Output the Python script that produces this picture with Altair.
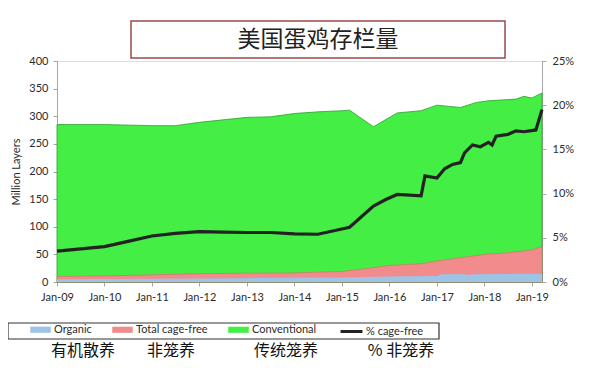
import altair as alt
import pandas as pd

# ---------------- data ----------------
title_text = "美国蛋鸡存栏量"

total_dates = ["2009-01-01", "2010-01-01", "2011-01-01", "2011-07-01", "2012-01-01",
               "2013-01-01", "2013-07-01", "2014-01-01", "2014-07-01", "2015-01-01",
               "2015-03-01", "2015-09-01", "2016-03-01", "2016-09-01", "2017-01-01",
               "2017-07-01", "2017-11-01", "2018-02-01", "2018-09-01", "2018-11-01",
               "2019-01-01", "2019-03-20"]
total_values = [285, 285, 283, 283, 289, 298, 299, 305, 308, 310, 311, 281, 306, 310,
                320, 316, 325, 328, 331, 336, 333, 342]

cagefree_dates = ["2009-01-01", "2010-01-01", "2011-01-01", "2012-01-01", "2013-01-01",
                  "2014-01-01", "2015-01-01", "2015-07-01", "2016-01-01", "2016-09-01",
                  "2017-01-01", "2017-07-01", "2018-01-01", "2018-07-01", "2019-01-01",
                  "2019-03-20"]
cagefree_values = [10, 11, 13, 15, 16, 16.5, 19, 24, 30, 33, 38, 44, 50, 53, 58, 64]

organic_dates = ["2009-01-01", "2011-01-01", "2013-01-01", "2015-01-01", "2016-01-01",
                 "2017-01-01", "2017-02-01", "2017-08-01", "2017-09-01", "2017-10-01",
                 "2019-03-20"]
organic_values = [5, 6, 7, 8, 10, 11, 14, 14, 12.5, 14, 15]

pct_dates = ["2009-01-01", "2010-01-01", "2010-07-01", "2011-01-01", "2011-07-01",
             "2012-01-01", "2012-07-01", "2013-01-01", "2013-07-01", "2014-01-01",
             "2014-07-01", "2015-01-01", "2015-03-01", "2015-09-01", "2015-12-01",
             "2016-03-01", "2016-09-01", "2016-10-01", "2017-01-01", "2017-03-01",
             "2017-05-01", "2017-07-01", "2017-08-01", "2017-10-01", "2017-12-01",
             "2018-02-01", "2018-03-01", "2018-04-01", "2018-07-01", "2018-09-01",
             "2018-11-01", "2019-02-01", "2019-03-20"]
pct_values = [3.5, 4.0, 4.6, 5.2, 5.5, 5.7, 5.65, 5.6, 5.6, 5.45, 5.4, 6.0, 6.2, 8.6,
              9.3, 9.9, 9.75, 12.0, 11.75, 12.8, 13.3, 13.5, 14.6, 15.5, 15.3, 15.8,
              15.5, 16.5, 16.7, 17.1, 17.0, 17.2, 19.5]

year_ticks = list(range(2009, 2020))
left_ticks = [0, 50, 100, 150, 200, 250, 300, 350, 400]
right_ticks = [0, 0.05, 0.10, 0.15, 0.20, 0.25]

series_names = ["Organic", "Total cage-free", "Conventional"]
series_colors = ["#9DC3E6", "#F28C8C", "#44EE44"]
line_name = "% cage-free"
cn_labels = ["有机散养", "非笼养", "传统笼养", "% 非笼养"]

# ---------------- tables ----------------
def stamp(d):
    return d + "T00:00:00"

total_df = pd.DataFrame({"date": [stamp(d) for d in total_dates],
                         "value": total_values, "series": "Conventional"})
cage_df = pd.DataFrame({"date": [stamp(d) for d in cagefree_dates],
                        "value": cagefree_values, "series": "Total cage-free"})
org_df = pd.DataFrame({"date": [stamp(d) for d in organic_dates],
                       "value": organic_values, "series": "Organic"})
pct_df = pd.DataFrame({"date": [stamp(d) for d in pct_dates],
                       "pct": [v / 100 for v in pct_values], "series": line_name})

FONT = "Lato"
AX = "#A6A6A6"
TXT = "#2B2B2B"

x_scale = alt.Scale(domain=[alt.DateTime(year=2009, month=1, date=1),
                            alt.DateTime(year=2019, month=3, date=20)], nice=False)
x_axis = alt.Axis(values=[alt.DateTime(year=y, month=1, date=1) for y in year_ticks],
                  format="%b-%y", title=None, labelFont=FONT, labelFontSize=11,
                  labelColor=TXT, tickSize=4, tickColor=AX, domainColor=AX,
                  labelPadding=5, grid=False, labelFlush=False)
x_enc = alt.X("date:T", scale=x_scale, axis=x_axis)

y_enc = alt.Y("value:Q", scale=alt.Scale(domain=[0, 400], nice=False),
              axis=alt.Axis(values=left_ticks, title="Million Layers", titleFont=FONT,
                            titleFontSize=11, titleFontWeight="normal", titleColor=TXT,
                            titlePadding=7, labelFont=FONT, labelFontSize=11,
                            labelColor=TXT, tickSize=4, tickColor=AX,
                            domainColor=AX, labelPadding=5, grid=False))

color_enc = alt.Color("series:N",
                      scale=alt.Scale(domain=series_names, range=series_colors),
                      legend=alt.Legend(orient="none", legendX=-27, legendY=258,
                                        direction="horizontal", columns=3, title=None,
                                        symbolType="M-1,-0.3L1,-0.3L1,0.3L-1,0.3Z",
                                        symbolSize=420, symbolStrokeWidth=0,
                                        labelFont=FONT, labelFontSize=11,
                                        labelColor=TXT, labelOffset=3,
                                        labelBaseline="middle",
                                        columnPadding=20, padding=0))

green = alt.Chart(total_df).mark_area(stroke="#2E9E2E", strokeWidth=0.8).encode(
    x=x_enc, y=y_enc, color=color_enc)
red = alt.Chart(cage_df).mark_area(stroke="#D86A6A", strokeWidth=0.6).encode(
    x=x_enc, y=y_enc, color=color_enc)
blue = alt.Chart(org_df).mark_area().encode(x=x_enc, y=y_enc, color=color_enc)

areas = alt.layer(green, red, blue)

line = alt.Chart(pct_df).mark_line(strokeWidth=3.2).encode(
    x=x_enc,
    y=alt.Y("pct:Q", scale=alt.Scale(domain=[0, 0.25], nice=False),
            axis=alt.Axis(orient="right", values=right_ticks, format=".0%", title=None,
                          labelFont=FONT, labelFontSize=11, labelColor=TXT,
                          tickSize=4, tickColor=AX, domainColor=AX, labelPadding=6,
                          grid=False)),
    stroke=alt.Stroke("series:N", scale=alt.Scale(domain=[line_name], range=["#222222"]),
                      legend=alt.Legend(orient="none", legendX=282, legendY=258,
                                        title=None, symbolType="stroke", symbolSize=480,
                                        symbolStrokeWidth=3, labelFont=FONT,
                                        labelFontSize=11, labelColor=TXT,
                                        labelBaseline="middle",
                                        labelOffset=2, padding=0)),
)

main = alt.layer(areas, line).resolve_scale(y="independent")

# ---------------- decorations: title box, legend box, chinese labels ----------------
title_df = pd.DataFrame({"label": [title_text]})
title_box = alt.Chart(title_df).mark_rect(fill="white", stroke="#9B4A4A",
                                          strokeWidth=1.5).encode(
    x=alt.value(74), x2=alt.value(448), y=alt.value(-40), y2=alt.value(-3))
title_txt = alt.Chart(title_df).mark_text(font="Noto Sans CJK SC", fontSize=23,
                                          color="#222222", baseline="middle",
                                          align="center").encode(
    x=alt.value(261), y=alt.value(-21), text="label:N")

legend_box = alt.Chart(title_df).mark_rect(fill=None, stroke="#333333",
                                           strokeWidth=1.2).encode(
    x=alt.value(-49), x2=alt.value(382), y=alt.value(262), y2=alt.value(278))

cn_x = [26, 114, 229, 344]
cn_layers = []
for lab, xv in zip(cn_labels, cn_x):
    cn_layers.append(
        alt.Chart(pd.DataFrame({"label": [lab]})).mark_text(
            font="Noto Sans CJK SC", fontSize=16, color="#111111", baseline="middle",
            align="center").encode(x=alt.value(xv), y=alt.value(290), text="label:N"))

chart = alt.layer(main, title_box, title_txt, legend_box, *cn_layers).properties(
    width=485, height=221,
    padding={"left": 49, "top": 53, "right": 50, "bottom": 78},
    autosize=alt.AutoSizeParams(type="none"),
).configure_view(stroke=None).configure(background="white")

chart.save("out.html", embed_options={"renderer": "svg", "actions": False})
